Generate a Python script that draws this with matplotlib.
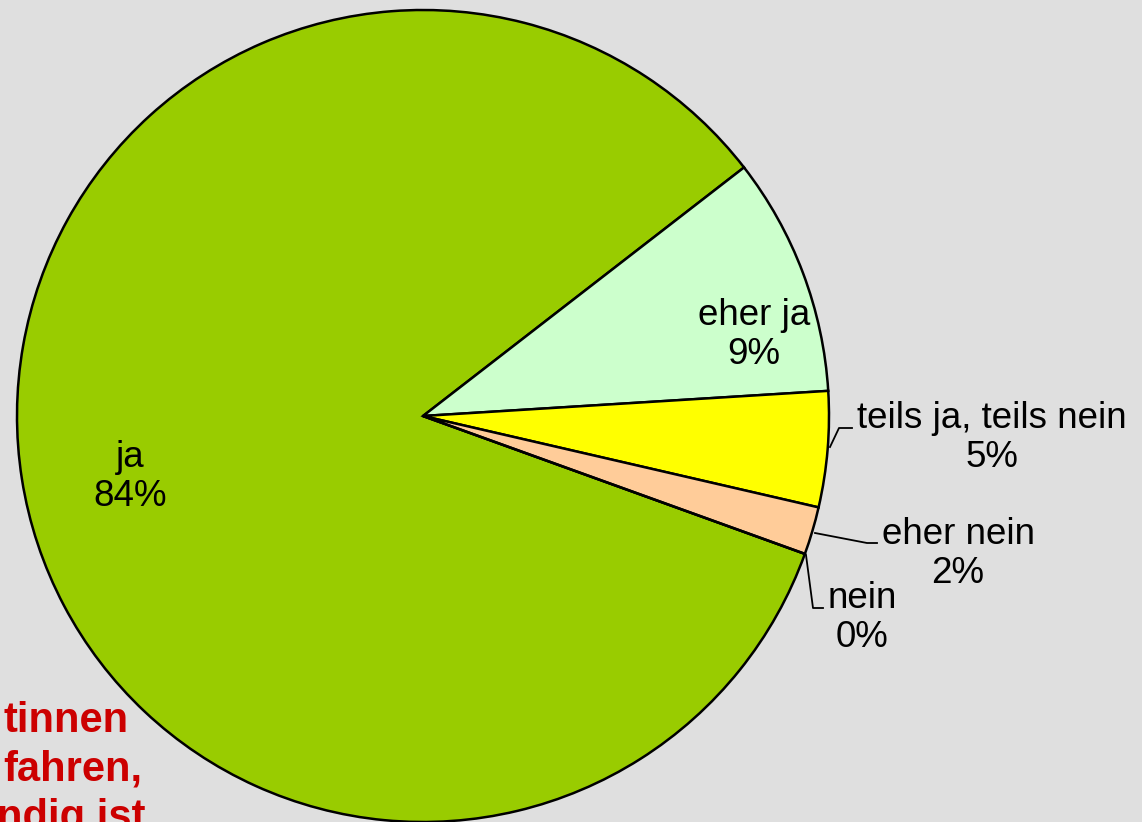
import matplotlib.pyplot as plt

labels = ["ja", "eher ja", "teils ja, teils nein", "eher nein", "nein"]
values = [84.0, 9.5, 4.6, 1.9, 0.0]
pct_labels = ["84%", "9%", "5%", "2%", "0%"]
colors = ["#99CC00", "#CCFFCC", "#FFFF00", "#FFCC99", "#FF9900"]

W, H = 1142, 822
fig = plt.figure(figsize=(W / 100, H / 100), dpi=100)
fig.patch.set_facecolor("#DFDFDF")
ax = fig.add_axes([0, 0, 1, 1])
ax.set_facecolor("#DFDFDF")

# red note text partly cut off at the left edge (drawn behind the pie)
red = dict(color="#CC0000", fontsize=30, fontweight="bold",
           family="Liberation Sans", ha="left", va="baseline", zorder=0)
ax.text(3, H - 732, "tinnen", **red)
ax.text(3, H - 780, "fahren,", **red)
ax.text(-3, H - 829, "ndig ist", **red)

# pie centre and radius in pixel units (y measured from bottom)
cx, cy, r = 423, H - 416, 406
wedges, _ = ax.pie(values, colors=colors, startangle=-19.85, counterclock=False,
                   center=(cx, cy), radius=r, frame=True,
                   wedgeprops=dict(edgecolor="black", linewidth=1.8))
for w in wedges:
    w.set_zorder(2)

font = dict(fontsize=26.5, family="Liberation Sans", color="black",
            ha="center", va="center", linespacing=1.15, zorder=5)
ax.text(130, H - 477, labels[0] + "\n" + pct_labels[0], **font)
ax.text(754, H - 335, labels[1] + "\n" + pct_labels[1], **font)
ax.text(992, H - 438, labels[2] + "\n" + pct_labels[2], **font)
ax.text(958, H - 554, labels[3] + "\n" + pct_labels[3], **font)
ax.text(862, H - 618, labels[4] + "\n" + pct_labels[4], **font)

# leader lines
lk = dict(color="black", linewidth=1.3, zorder=4)
ax.plot([830, 839, 852], [H - 447, H - 428, H - 428], **lk)
ax.plot([815, 867, 877], [H - 533, H - 543, H - 543], **lk)
ax.plot([806, 813, 823], [H - 555, H - 608, H - 608], **lk)

ax.set_xlim(0, W)
ax.set_ylim(0, H)
ax.set_aspect("auto")
ax.axis("off")

fig.savefig("out.png", dpi=100, facecolor=fig.get_facecolor())
